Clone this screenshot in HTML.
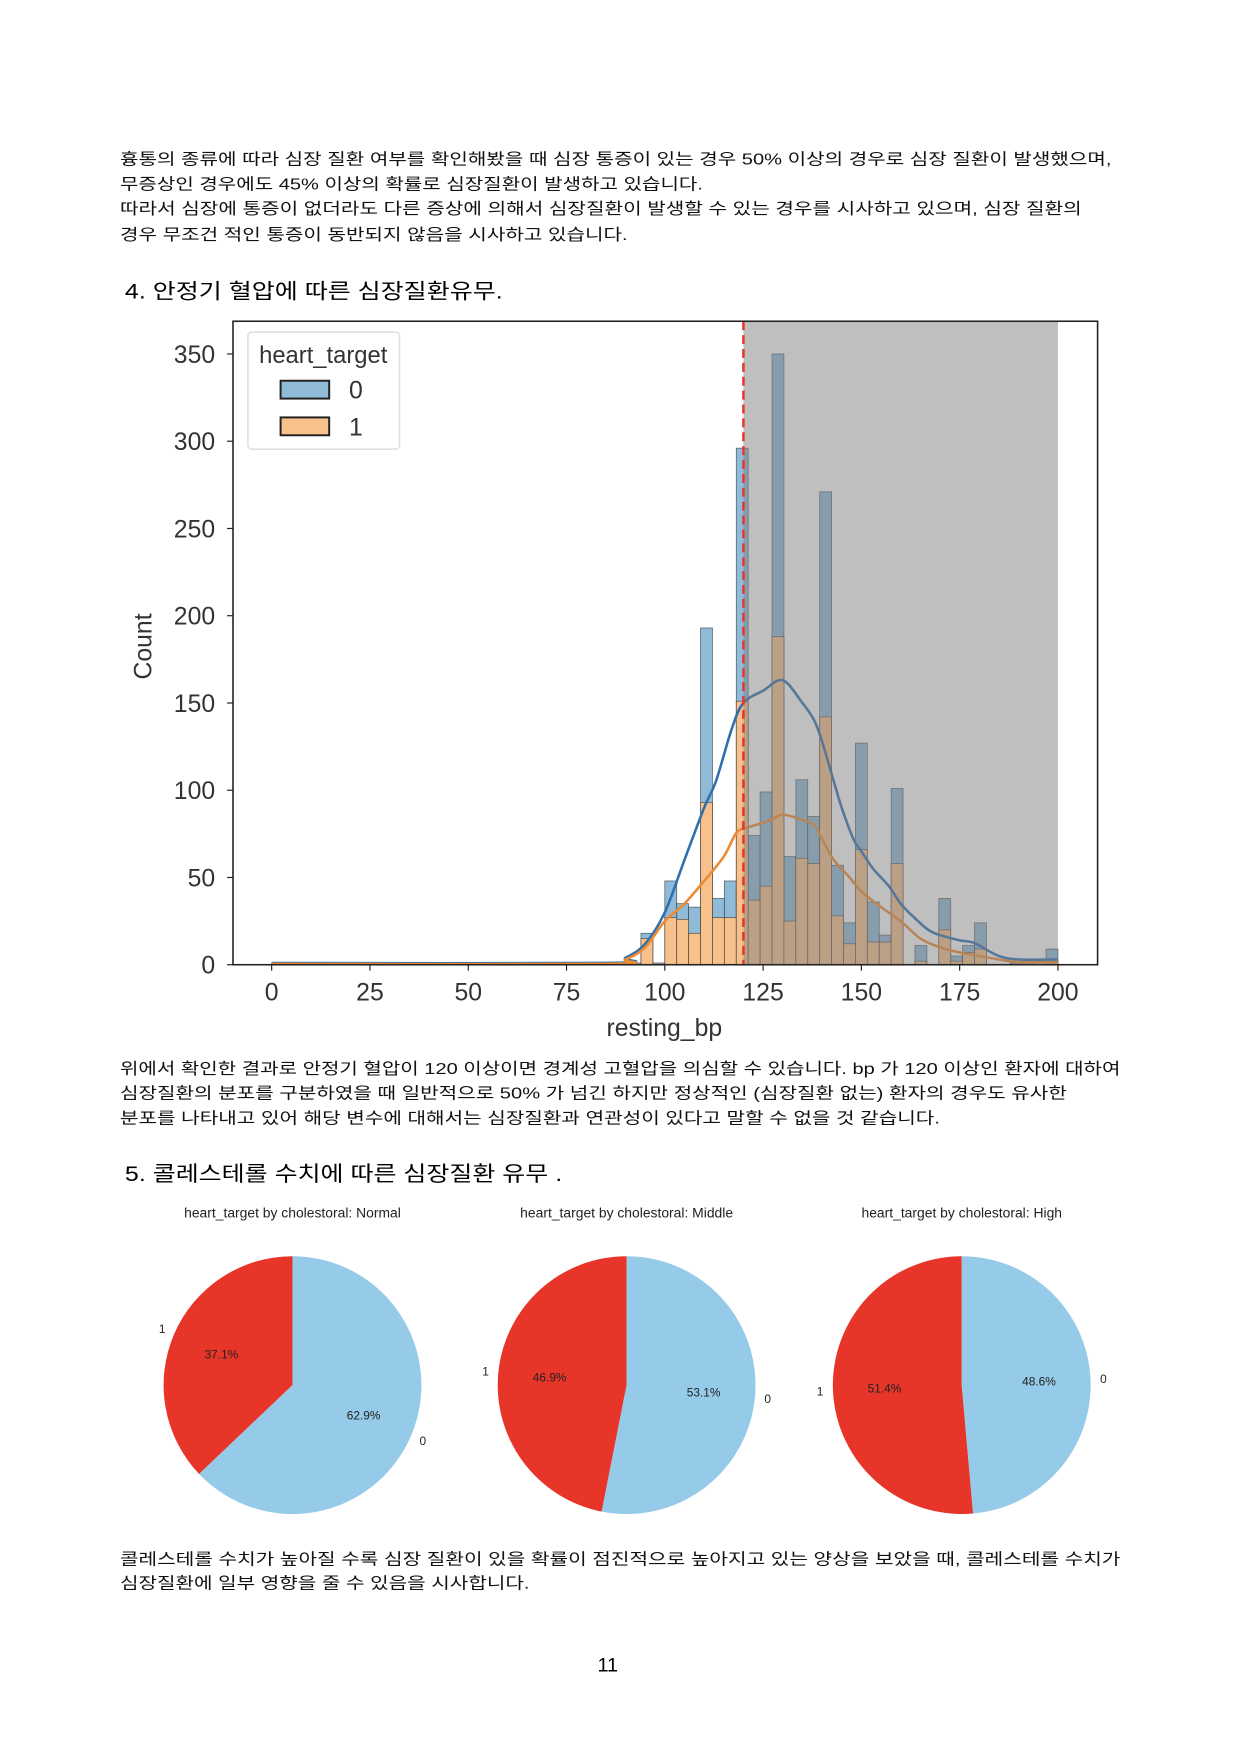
<!DOCTYPE html>
<html><head><meta charset="utf-8"><style>
body{margin:0;background:#fff}
svg{display:block;font-family:"Liberation Sans","Noto Sans CJK KR",sans-serif}
</style></head><body>
<svg id="page" width="1242" height="1755" viewBox="0 0 1242 1755">
<g transform="scale(0.9915)">
<g font-size="16" fill="#111">
<text x="121" y="166" textLength="1000" lengthAdjust="spacingAndGlyphs">흉통의 종류에 따라 심장 질환 여부를 확인해봤을 때 심장 통증이 있는 경우 50% 이상의 경우로 심장 질환이 발생했으며,</text>
<text x="121" y="191" textLength="588" lengthAdjust="spacingAndGlyphs">무증상인 경우에도 45% 이상의 확률로 심장질환이 발생하고 있습니다.</text>
<text x="121" y="216" textLength="970" lengthAdjust="spacingAndGlyphs">따라서 심장에 통증이 없더라도 다른 증상에 의해서 심장질환이 발생할 수 있는 경우를 시사하고 있으며, 심장 질환의</text>
<text x="121" y="242" textLength="512" lengthAdjust="spacingAndGlyphs">경우 무조건 적인 통증이 동반되지 않음을 시사하고 있습니다.</text>
</g>
<text x="126" y="301" font-size="21" textLength="381" lengthAdjust="spacingAndGlyphs">4. 안정기 혈압에 따른 심장질환유무.</text>
<g id="hist"></g>
<g font-size="16" fill="#111">
<text x="121" y="1083" textLength="1009" lengthAdjust="spacingAndGlyphs">위에서 확인한 결과로 안정기 혈압이 120 이상이면 경계성 고혈압을 의심할 수 있습니다. bp 가 120 이상인 환자에 대하여</text>
<text x="121" y="1108" textLength="955" lengthAdjust="spacingAndGlyphs">심장질환의 분포를 구분하였을 때 일반적으로 50% 가 넘긴 하지만 정상적인 (심장질환 없는) 환자의 경우도 유사한</text>
<text x="121" y="1133" textLength="827" lengthAdjust="spacingAndGlyphs">분포를 나타내고 있어 해당 변수에 대해서는 심장질환과 연관성이 있다고 말할 수 없을 것 같습니다.</text>
</g>
<text x="126" y="1191" font-size="21" textLength="441" lengthAdjust="spacingAndGlyphs">5. 콜레스테롤 수치에 따른 심장질환 유무 .</text>
<g id="pies"></g>
<g font-size="16" fill="#111">
<text x="121" y="1578" textLength="1009" lengthAdjust="spacingAndGlyphs">콜레스테롤 수치가 높아질 수록 심장 질환이 있을 확률이 점진적으로 높아지고 있는 양상을 보았을 때, 콜레스테롤 수치가</text>
<text x="121" y="1602" textLength="413" lengthAdjust="spacingAndGlyphs">심장질환에 일부 영향을 줄 수 있음을 시사합니다.</text>
</g>
<text x="613" y="1686" font-size="20" text-anchor="middle">11</text>
</g>
</svg>
<script>
// ---- histogram data ----
const binCount = 66;
const binStart = 0, binEnd = 200;
const blueCounts = {0:1,30:1,31:18,32:1,33:48,34:35,35:33,36:193,37:38,38:48,39:296,40:74,41:99,42:350,43:62,44:106,45:85,46:271,47:57,48:24,49:127,50:36,51:17,52:101,54:11,56:38,57:5,58:11,59:24,62:1,63:2,65:9};
const orangeCounts = {31:15,33:27,34:26,35:18,36:93,37:27,38:27,39:151,40:37,41:45,42:188,43:25,44:61,45:58,46:142,47:28,48:12,49:66,50:13,51:13,52:58,54:2,56:20,57:2,58:7,59:9,63:1,65:2};
const kdeX = [0,85,90,95,100,105,110,113,117,120,125,130,135,138,140,143,145,148,150,153,157,160,163,167,170,175,178,180,185,190,200];
const kdeBlue = [1,1,4,12,30,60,90,105,135,150,157,163,150,140,128,105,90,72,65,55,45,35,28,20,17,14,13,11,5,3,3];
const kdeOrangeX = [0,85,90,95,100,105,110,115,118,120,123,127,130,135,138,140,143,147,150,155,160,165,170,175,180,185,190,200];
const kdeOrange = [0.5,0.5,3,10,25,35,48,62,75,78,80,83,86,83,80,72,60,50,42,33,25,15,10,7,5,3,1.5,1.5];
const xTicks = [0,25,50,75,100,125,150,175,200];
const yTicks = [0,50,100,150,200,250,300,350];
const threshold = 120;

const NS="http://www.w3.org/2000/svg";
function mk(tag,attrs,parent){const e=document.createElementNS(NS,tag);for(const k in attrs)e.setAttribute(k,attrs[k]);parent.appendChild(e);return e;}
const X0=274,X1=1067; const xs=v=>X0+(v-0)/200*(X1-X0);
const Y0=973,Y350=357; const ys=v=>Y0-v/350*(Y0-Y350);
const H=document.getElementById('hist');
const frame={l:235,t:324,r:1107,b:973};
// smoothing helper for KDE curves (Catmull-Rom)
function smoothPath(px){let d=`M${px[0][0]},${px[0][1]}`;for(let i=0;i<px.length-1;i++){const p0=px[Math.max(0,i-1)],p1=px[i],p2=px[i+1],p3=px[Math.min(px.length-1,i+2)];const c1=[p1[0]+(p2[0]-p0[0])/6,p1[1]+(p2[1]-p0[1])/6],c2=[p2[0]-(p3[0]-p1[0])/6,p2[1]-(p3[1]-p1[1])/6];d+=`C${c1[0].toFixed(1)},${c1[1].toFixed(1)} ${c2[0].toFixed(1)},${c2[1].toFixed(1)} ${p2[0].toFixed(1)},${p2[1].toFixed(1)}`;}return d;}
const bw=(binEnd-binStart)/binCount;
for(let i=0;i<binCount;i++){
  const v=blueCounts[i];
  if(v){const b=mk('rect',{x:xs(i*bw),y:ys(v),width:xs(bw)-xs(0),height:Y0-ys(v),fill:'#8fbbd9',stroke:'#333','stroke-width':0.8,'stroke-opacity':0.7},H);
  
  }
}
for(let i=0;i<binCount;i++){
  const v=orangeCounts[i];
  if(v){const b=mk('rect',{x:xs(i*bw),y:ys(v),width:xs(bw)-xs(0),height:Y0-ys(v),fill:'#f8c08b',stroke:'#333','stroke-width':0.8,'stroke-opacity':0.7},H);
  
  }
}
function line(xsArr,ysArr,color,name){
  const pts=xsArr.map((x,i)=>[xs(x),ys(ysArr[i])]);
  const p=mk('path',{d:smoothPath(pts),fill:'none',stroke:color,'stroke-width':2.6,'stroke-linejoin':'round'},H);
  
  
}
line(kdeX,kdeBlue,'#2f6fb0','kde-target0');
line(kdeOrangeX,kdeOrange,'#f08a2e','kde-target1');
const span=mk('rect',{x:xs(threshold),y:frame.t,width:xs(200)-xs(threshold),height:frame.b-frame.t,fill:'#808080','fill-opacity':0.5},H);


const vl=mk('line',{x1:xs(threshold),x2:xs(threshold),y1:frame.t,y2:frame.b,stroke:'#e8352a','stroke-width':2.5,'stroke-dasharray':'9,5'},H);


const fr=mk('rect',{x:frame.l,y:frame.t,width:frame.r-frame.l,height:frame.b-frame.t,fill:'none',stroke:'#222','stroke-width':1.6},H);


xTicks.forEach(t=>{
  mk('line',{x1:xs(t),x2:xs(t),y1:frame.b,y2:frame.b+6,stroke:'#222','stroke-width':1.2},H);
  const tx=mk('text',{x:xs(t),y:1009,'font-size':25,'text-anchor':'middle',fill:'#333'},H);
  tx.textContent=t;
  
  
});
yTicks.forEach(t=>{
  mk('line',{x1:frame.l-6,x2:frame.l,y1:ys(t),y2:ys(t),stroke:'#222','stroke-width':1.2},H);
  const tx=mk('text',{x:217,y:ys(t)+9,'font-size':25,'text-anchor':'end',fill:'#333'},H);
  tx.textContent=t;
  
  
});
const xl=mk('text',{x:670,y:1045,'font-size':25,'text-anchor':'middle',fill:'#333'},H);
xl.textContent='resting_bp';


const yl=mk('text',{x:0,y:0,'font-size':25,'text-anchor':'middle',fill:'#333',transform:'translate(153,652) rotate(-90)'},H);
yl.textContent='Count';


const lg=mk('g',{},H);


mk('rect',{x:250,y:335,width:153,height:118,rx:4,fill:'#fff',stroke:'#ddd','stroke-width':1.5},lg);
const lt=mk('text',{x:326,y:366,'font-size':24,'text-anchor':'middle',fill:'#333'},lg);lt.textContent='heart_target';
[['0','#8fbbd9',393],['1','#f8c08b',430]].forEach(([lab,c,y])=>{
  const r=mk('rect',{x:283,y:y-9,width:49,height:18,fill:c,stroke:'#222','stroke-width':2},lg);
  
  
  const t=mk('text',{x:352,y:y+9,'font-size':25,fill:'#333'},lg);t.textContent=lab;
  
  
});

// ---- pies ----
const pieTitles=['heart_target by cholestoral: Normal','heart_target by cholestoral: Middle','heart_target by cholestoral: High'];
const pieRed=[37.1,46.9,51.4];
const pieBlue=[62.9,53.1,48.6];
const P=document.getElementById('pies');
const centers=[[295,1397],[632,1397],[970,1397]];const R=130;
function pt(cx,cy,r,a){return [cx+r*Math.cos(a),cy-r*Math.sin(a)];}
function wedge(cx,cy,a0,a1,color,name){
  const [x0,y0]=pt(cx,cy,R,a0),[x1,y1]=pt(cx,cy,R,a1);
  const large=Math.abs(a1-a0)>Math.PI?1:0; const sweep=a1>a0?0:1;
  const p=mk('path',{d:`M${cx},${cy}L${x0},${y0}A${R},${R} 0 ${large} ${sweep} ${x1},${y1}Z`,fill:color},P);
  
  
}
pieTitles.forEach((title,i)=>{
  const [cx,cy]=centers[i];
  const t=mk('text',{x:cx,y:1228,'font-size':14,'text-anchor':'middle',fill:'#222'},P);t.textContent=title;
  
  
  const tot=pieRed[i]+pieBlue[i];
  const a90=Math.PI/2, aR=a90+pieRed[i]/tot*2*Math.PI;
  wedge(cx,cy,a90,aR,'#e8352a','pie-slice-1');
  wedge(cx,cy,aR,a90+2*Math.PI,'#95cbe8','pie-slice-0');
  const mR=(a90+aR)/2, mB=(aR+a90+2*Math.PI)/2;
  [[mR,pieRed[i],'1'],[mB,pieBlue[i],'0']].forEach(([m,v,lab])=>{
    const [px,py]=pt(cx,cy,R*0.6,m);
    const a=mk('text',{x:px,y:py+4,'font-size':12,'text-anchor':'middle',fill:'#222'},P);a.textContent=v.toFixed(1)+'%';
    
    
    const [lx,ly]=pt(cx,cy,R*1.1,m);
    const b=mk('text',{x:lx,y:ly+4,'font-size':12,'text-anchor':'middle',fill:'#222'},P);b.textContent=lab;
    
    
  });
});
</script>
</body></html>
